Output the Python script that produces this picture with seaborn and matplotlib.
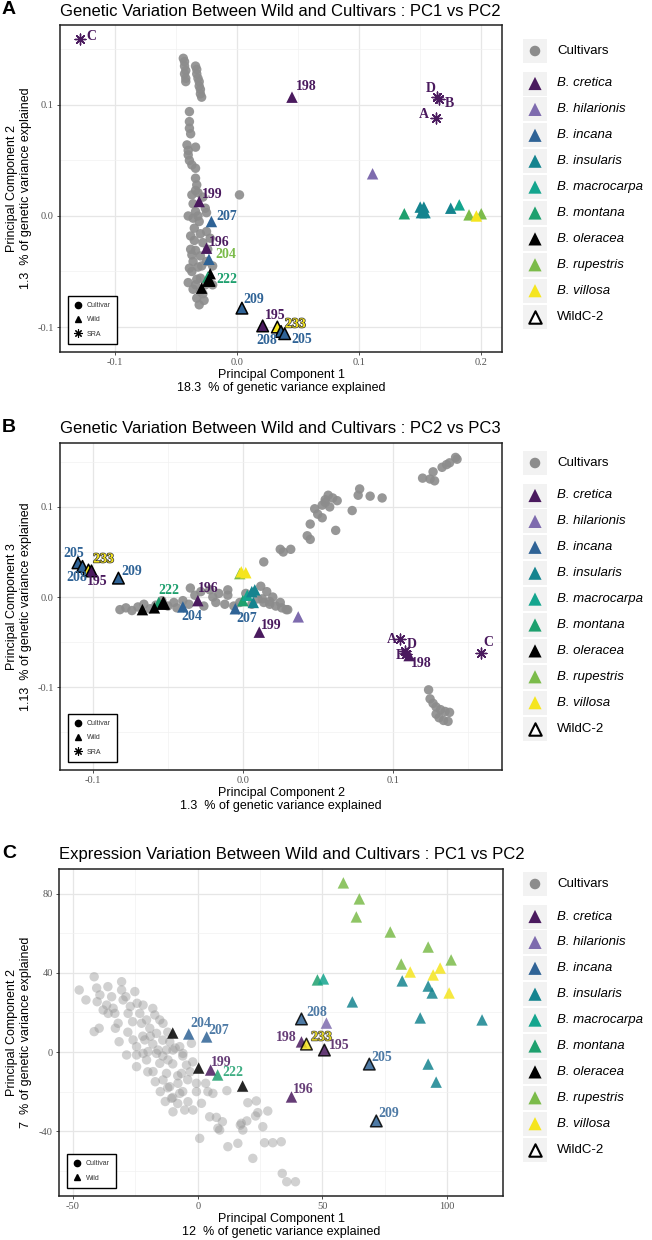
import numpy as np
import pandas as pd
import matplotlib
matplotlib.use("Agg")
import matplotlib.pyplot as plt
import matplotlib.patheffects as pe
from matplotlib.lines import Line2D
from matplotlib.patches import Rectangle
from matplotlib.ticker import FixedLocator, FormatStrFormatter
import seaborn as sns

# ─────────────────────────────────────────────
# DATA
# ─────────────────────────────────────────────
SPECIES = ["B. cretica", "B. hilarionis", "B. incana", "B. insularis", "B. macrocarpa",
           "B. montana", "B. oleracea", "B. rupestris", "B. villosa"]
SPECIES_COLORS = ["#4a1a5e", "#7e6bae", "#2f6396", "#15848f", "#14a58e",
                  "#1ea06e", "#000000", "#7bbb4a", "#f5e51e"]
PALETTE = dict(zip(SPECIES, SPECIES_COLORS))
GREY = "#8c8c8c"

TITLES = ["Genetic Variation Between Wild and Cultivars : PC1 vs PC2",
          "Genetic Variation Between Wild and Cultivars : PC2 vs PC3",
          "Expression Variation Between Wild and Cultivars : PC1 vs PC2"]
X_TITLES = [("Principal Component 1", "18.3  % of genetic variance explained"),
            ("Principal Component 2", "1.3  % of genetic variance explained"),
            ("Principal Component 1", "12  % of genetic variance explained")]
Y_TITLES = [("Principal Component 2", "1.3  % of genetic variance explained"),
            ("Principal Component 3", "1.13  % of genetic variance explained"),
            ("Principal Component 2", "7  % of genetic variance explained")]

# panel A : PC1 vs PC2 (genetic)
A_CULT = [(-0.044, 0.142), (-0.043, 0.139), (-0.043, 0.135), (-0.042, 0.131), (-0.043, 0.128),
          (-0.042, 0.124), (-0.042, 0.121), (-0.034, 0.135), (-0.033, 0.132), (-0.033, 0.128),
          (-0.032, 0.124), (-0.031, 0.121), (-0.031, 0.117), (-0.030, 0.114), (-0.030, 0.110),
          (-0.029, 0.107), (-0.039, 0.094), (-0.039, 0.085), (-0.039, 0.079), (-0.038, 0.074),
          (-0.041, 0.064), (-0.040, 0.059), (-0.034, 0.062), (-0.040, 0.055), (-0.039, 0.050),
          (-0.037, 0.046), (-0.034, 0.043), (-0.034, 0.034), (-0.033, 0.028), (-0.034, 0.023),
          (-0.037, 0.019), (-0.032, 0.021), (-0.028, 0.017), (-0.036, 0.011), (-0.034, 0.004),
          (-0.026, 0.007), (-0.036, -0.002), (-0.031, -0.005), (-0.025, 0.003), (-0.035, -0.011),
          (-0.030, -0.016), (-0.035, -0.022), (-0.028, -0.024), (-0.034, -0.031), (-0.030, -0.036),
          (-0.036, -0.041), (-0.032, -0.046), (-0.037, -0.050), (-0.030, -0.056), (-0.034, -0.062),
          (-0.030, -0.068), (-0.033, -0.074), (-0.031, -0.080), (-0.027, -0.076), (-0.039, -0.047),
          (-0.025, -0.041), (-0.020, -0.045), (-0.025, -0.014), (-0.022, -0.020), (-0.026, -0.062),
          (-0.020, -0.062), (-0.040, 0.000), (-0.038, -0.030), (-0.040, -0.060), (-0.028, -0.070),
          (-0.024, -0.030), (-0.038, -0.018), (-0.037, -0.035), (-0.033, -0.057), (-0.036, -0.066),
          (-0.029, -0.045), (-0.032, 0.000), (0.002, 0.019)]
A_WILD = [("B. cretica", 0.045, 0.107, False, "198"),
          ("B. hilarionis", 0.111, 0.038, False, ""),
          ("B. montana", 0.137, 0.002, False, ""),
          ("B. insularis", 0.150, 0.008, False, ""),
          ("B. insularis", 0.153, 0.008, False, ""),
          ("B. insularis", 0.151, 0.003, False, ""),
          ("B. insularis", 0.154, 0.003, False, ""),
          ("B. insularis", 0.175, 0.007, False, ""),
          ("B. macrocarpa", 0.182, 0.010, False, ""),
          ("B. rupestris", 0.190, 0.001, False, ""),
          ("B. rupestris", 0.200, 0.002, False, ""),
          ("B. villosa", 0.196, 0.000, False, ""),
          ("B. cretica", -0.031, 0.013, False, "199"),
          ("B. incana", -0.021, -0.005, False, "207"),
          ("B. cretica", -0.025, -0.029, False, "196"),
          ("B. incana", -0.023, -0.039, False, "204"),
          ("B. oleracea", -0.022, -0.052, False, ""),
          ("B. oleracea", -0.023, -0.058, True, ""),
          ("B. montana", -0.024, -0.055, False, "222"),
          ("B. oleracea", -0.029, -0.065, False, ""),
          ("B. incana", 0.004, -0.083, True, "209"),
          ("B. cretica", 0.021, -0.099, True, "195"),
          ("B. villosa", 0.033, -0.100, True, "233"),
          ("B. incana", 0.036, -0.104, True, "208"),
          ("B. incana", 0.039, -0.106, True, "205")]
A_SRA = [("C", -0.129, 0.159), ("D", 0.164, 0.107), ("B", 0.165, 0.105), ("A", 0.163, 0.088)]

# panel B : PC2 vs PC3 (genetic)
B_CULT = [(0.120, 0.132), (0.125, 0.131), (0.128, 0.129), (0.127, 0.139), (0.133, 0.144),
          (0.136, 0.147), (0.138, 0.149), (0.143, 0.153), (0.142, 0.155),
          (0.057, 0.113), (0.055, 0.108), (0.053, 0.102), (0.058, 0.100), (0.063, 0.107),
          (0.078, 0.120), (0.077, 0.113), (0.085, 0.112), (0.093, 0.110), (0.073, 0.096),
          (0.048, 0.098), (0.050, 0.092), (0.053, 0.088), (0.045, 0.081), (0.062, 0.074),
          (0.043, 0.068), (0.045, 0.064), (0.025, 0.053), (0.027, 0.050), (0.032, 0.053),
          (0.014, 0.039), (0.055, 0.105), (0.060, 0.110),
          (-0.082, -0.014), (-0.078, -0.012), (-0.074, -0.015), (-0.070, -0.011), (-0.066, -0.008),
          (-0.062, -0.013), (-0.058, -0.009), (-0.054, -0.004), (-0.050, -0.010), (-0.046, -0.006),
          (-0.044, -0.012), (-0.040, -0.004), (-0.036, -0.008), (-0.032, 0.002), (-0.028, 0.006),
          (-0.026, -0.010), (-0.022, 0.008), (-0.020, 0.000), (-0.018, -0.006), (-0.016, 0.004),
          (-0.012, -0.008), (-0.010, 0.002), (-0.006, -0.010), (-0.002, -0.006), (0.002, 0.004),
          (0.006, -0.008), (0.010, -0.002), (0.014, -0.006), (0.018, -0.008), (0.022, -0.010),
          (0.026, -0.012), (0.030, -0.014), (0.020, 0.000), (0.012, 0.012), (0.016, 0.006),
          (0.013, -0.002), (0.018, -0.005), (0.025, -0.006), (0.029, -0.014), (-0.010, 0.008),
          (-0.035, 0.010),
          (0.124, -0.103), (0.125, -0.113), (0.127, -0.118), (0.129, -0.122), (0.132, -0.125),
          (0.135, -0.127), (0.138, -0.128), (0.129, -0.130), (0.131, -0.134), (0.134, -0.137),
          (0.137, -0.138)]
B_WILD = [("B. incana", -0.110, 0.038, True, "205"),
          ("B. incana", -0.107, 0.034, True, "208"),
          ("B. villosa", -0.103, 0.030, True, "233"),
          ("B. cretica", -0.101, 0.029, True, "195"),
          ("B. incana", -0.083, 0.021, True, "209"),
          ("B. montana", -0.056, -0.006, False, "222"),
          ("B. oleracea", -0.067, -0.014, False, ""),
          ("B. oleracea", -0.059, -0.012, False, ""),
          ("B. oleracea", -0.053, -0.007, True, ""),
          ("B. incana", -0.040, -0.011, False, "204"),
          ("B. cretica", -0.030, -0.004, False, "196"),
          ("B. rupestris", -0.002, 0.026, False, ""),
          ("B. villosa", -0.001, 0.028, False, ""),
          ("B. villosa", 0.002, 0.027, False, ""),
          ("B. incana", -0.005, -0.013, False, "207"),
          ("B. montana", 0.000, -0.004, False, ""),
          ("B. macrocarpa", 0.003, 0.002, False, ""),
          ("B. insularis", 0.008, 0.008, False, ""),
          ("B. insularis", 0.006, 0.006, False, ""),
          ("B. insularis", 0.007, -0.006, False, ""),
          ("B. cretica", 0.011, -0.039, False, "199"),
          ("B. hilarionis", 0.037, -0.022, False, ""),
          ("B. cretica", 0.111, -0.065, False, "198")]
B_SRA = [("A", 0.105, -0.047), ("D", 0.108, -0.060), ("B", 0.109, -0.063), ("C", 0.159, -0.062)]

# panel C : PC1 vs PC2 (expression)
C_CULT = [(-47.5, 31.3), (-44.8, 26.3), (-41.5, 38.0), (-40.5, 32.3), (-40.3, 25.4), (-39.2, 28.8),
          (-41.5, 10.3), (-39.5, 12.0), (-37.9, 21.2), (-36.5, 23.7), (-35.9, 19.5), (-34.5, 27.9),
          (-33.9, 22.1), (-33.2, 19.5), (-31.9, 14.5), (-31.5, 5.2), (-30.5, 35.5), (-30.5, 31.3),
          (-29.9, 26.3), (-28.8, 27.9), (-27.9, 19.5), (-26.1, 15.3), (-25.2, 30.5), (-24.3, 24.6),
          (-23.2, 19.5), (-22.5, 14.5), (-21.9, 23.7), (-25.9, 6.1), (-24.5, 2.7), (-21.2, 6.1),
          (-20.5, 16.2), (-19.2, 12.0), (-17.2, 18.7), (-16.5, 9.4), (-15.2, 16.2), (-13.9, 14.5),
          (-15.9, 1.0), (-12.5, 1.0), (-11.2, 5.2), (-9.9, 1.0), (-7.2, 2.7), (-5.9, -0.7),
          (-2.5, 4.4), (-19.9, 0.2), (-21.9, -0.7), (-28.5, -1.5), (-24.5, -1.5), (-24.5, -7.4),
          (-20.5, -4.0), (-17.9, -9.9), (-16.5, -0.7), (-15.2, -5.7), (-13.9, -14.1), (-12.5, -10.8),
          (-11.9, -4.0), (-11.2, -17.5), (-10.5, -23.4), (-9.9, -30.2), (-7.9, -15.8), (-7.2, -20.9),
          (-6.5, -10.8), (-5.2, -29.3), (-4.5, -6.6), (-3.9, -25.1), (-1.9, -29.3), (-0.5, -20.0),
          (-0.5, -15.8), (0.8, -43.6), (1.5, -25.9), (3.2, -15.8), (4.1, -20.0), (4.8, -32.7),
          (6.1, -20.9), (7.5, -33.0), (8.1, -38.5), (8.8, -39.4), (9.9, -35.2), (11.7, -19.5),
          (12.1, -47.8), (16.1, -46.1), (17.1, -36.9), (17.5, -36.0), (18.1, -39.4), (19.7, -34.8),
          (20.1, -25.6), (22.1, -53.7), (23.2, -32.3), (23.5, -24.7), (24.1, -30.6), (26.1, -37.7),
          (26.8, -45.8), (28.1, -29.8), (30.1, -45.8), (33.5, -45.3), (33.9, -61.3), (35.7, -65.5),
          (39.2, -65.5), (-14.0, -2.0), (-10.0, -6.0), (-8.0, -12.0), (-12.0, -18.0), (-6.0, -2.0),
          (-3.0, -10.0), (-9.0, 2.0), (-18.0, 4.0), (-22.0, 8.0), (-28.0, 10.0), (-14.0, 6.0),
          (-6.0, -20.0), (-10.0, -23.0), (-17.0, -15.0), (-20.0, -10.0), (-13.0, -25.0),
          (-8.0, -26.0), (-2.0, -5.0), (-36.0, 33.0), (-27.0, 23.0), (-18.0, 22.0), (-33.0, 12.0),
          (-19.0, 8.0), (-12.0, 10.0), (-4.0, -14.0), (-15.0, -20.0)]
C_WILD = [("B. rupestris", 58.4, 85.4, False, ""),
          ("B. rupestris", 64.8, 77.3, False, ""),
          ("B. rupestris", 63.6, 68.2, False, ""),
          ("B. rupestris", 77.2, 60.6, False, ""),
          ("B. rupestris", 92.4, 53.0, False, ""),
          ("B. rupestris", 101.6, 46.5, False, ""),
          ("B. rupestris", 81.6, 44.4, False, ""),
          ("B. villosa", 85.2, 40.4, False, ""),
          ("B. villosa", 97.2, 42.4, False, ""),
          ("B. villosa", 94.4, 38.9, False, ""),
          ("B. villosa", 100.8, 29.8, False, ""),
          ("B. montana", 48.0, 36.4, False, ""),
          ("B. macrocarpa", 50.4, 36.9, False, ""),
          ("B. insularis", 82.0, 35.9, False, ""),
          ("B. insularis", 92.4, 33.3, False, ""),
          ("B. insularis", 94.0, 29.8, False, ""),
          ("B. insularis", 62.0, 25.3, False, ""),
          ("B. insularis", 89.2, 17.2, False, ""),
          ("B. insularis", 114.0, 16.2, False, ""),
          ("B. insularis", 92.4, -6.1, False, ""),
          ("B. insularis", 95.6, -15.2, False, ""),
          ("B. incana", 41.6, 16.7, True, "208"),
          ("B. hilarionis", 51.6, 14.6, False, ""),
          ("B. cretica", 41.6, 5.1, False, "198"),
          ("B. villosa", 43.6, 4.0, True, "233"),
          ("B. cretica", 50.8, 1.0, True, "195"),
          ("B. incana", 68.8, -6.1, True, "205"),
          ("B. incana", 71.6, -34.8, True, "209"),
          ("B. cretica", 37.6, -22.7, False, "196"),
          ("B. oleracea", -10.0, 9.6, False, ""),
          ("B. incana", -3.6, 9.1, False, "204"),
          ("B. incana", 3.6, 7.6, False, "207"),
          ("B. oleracea", 0.4, -8.1, False, ""),
          ("B. cretica", 5.2, -9.1, False, "199"),
          ("B. montana", 8.0, -11.6, False, "222"),
          ("B. oleracea", 18.0, -17.2, False, "")]

# ─────────────────────────────────────────────
# LAYOUT (pixels in a 652 x 1240 canvas)
# ─────────────────────────────────────────────
W, H = 652, 1240
PANELS = [
    dict(letter="A", box=(60, 25, 502, 352), title_y=11, legend_top=51,
         xlim=(-0.145, 0.217), ylim=(-0.1225, 0.172),
         xticks=[-0.1, 0.0, 0.1, 0.2], yticks=[-0.1, 0.0, 0.1], fmt="%.1f",
         cult=A_CULT, wild=A_WILD, sra=A_SRA, cult_alpha=0.9, cult_color=GREY, wild_alpha=1.0,
         offsets={"198": (14, 11), "199": (13, 7), "207": (15, 5), "196": (13, 6), "204": (17, 5),
                  "222": (19, -2), "209": (12, 9), "195": (13, 10), "233": (18, 3), "208": (-14, -9),
                  "205": (17, -6), "C": (12, 3), "D": (-7, 9), "B": (11, -4), "A": (-12, 4)},
         label_colors={"204": "#7bbb4a"}),
    dict(letter="B", box=(60, 443, 502, 770), title_y=428, legend_top=463,
         xlim=(-0.122, 0.173), ylim=(-0.192, 0.171),
         xticks=[-0.1, 0.0, 0.1], yticks=[-0.1, 0.0, 0.1], fmt="%.1f",
         cult=B_CULT, wild=B_WILD, sra=B_SRA, cult_alpha=0.9, cult_color=GREY, wild_alpha=1.0,
         offsets={"205": (-4, 9), "208": (-6, -11), "233": (15, 11), "195": (6, -11), "209": (13, 7),
                  "222": (10, 12), "196": (10, 12), "204": (9, -10), "207": (11, -10), "199": (12, 7),
                  "198": (12, -8), "A": (-8, 0), "D": (7, 7), "B": (-6, -2), "C": (7, 10)},
         label_colors={}),
    dict(letter="C", box=(59, 869, 503, 1196), title_y=855, legend_top=884,
         xlim=(-55.6, 122.4), ylim=(-72.7, 92.4),
         xticks=[-50, 0, 50, 100], yticks=[-40, 0, 40, 80], fmt="%d",
         cult=C_CULT, wild=C_WILD, sra=None, cult_alpha=0.45, cult_color="#999999", wild_alpha=0.85,
         offsets={"204": (12, 10), "207": (12, 6), "199": (11, 8), "222": (15, 2), "196": (12, 7),
                  "209": (12, 7), "205": (12, 7), "195": (15, 5), "233": (15, 7), "198": (-15, 4),
                  "208": (15, 6)},
         label_colors={}),
]

plt.rcParams["font.family"] = ["Liberation Sans", "DejaVu Sans"]
SERIF = "Liberation Serif"
SRA_MARKER = (8, 2, 0)

fig = plt.figure(figsize=(W / 100, H / 100), dpi=100)
fig.patch.set_facecolor("white")


def px_axes(l, t, r, b):
    return fig.add_axes([l / W, 1 - b / H, (r - l) / W, (b - t) / H])


def fig_xy(x, y):
    return x / W, 1 - y / H


def draw_panel(p):
    l, t, r, b = p["box"]
    ax = px_axes(l, t, r, b)
    ax.set_facecolor("white")

    cult = pd.DataFrame(p["cult"], columns=["pc_x", "pc_y"])
    sns.scatterplot(data=cult, x="pc_x", y="pc_y", color=p["cult_color"], s=46,
                    alpha=p["cult_alpha"], edgecolor="none", legend=False, ax=ax, zorder=2)

    wild = pd.DataFrame(p["wild"], columns=["species", "pc_x", "pc_y", "wildc2", "label"])
    plain = wild[~wild["wildc2"]]
    edged = wild[wild["wildc2"]]
    sns.scatterplot(data=plain, x="pc_x", y="pc_y", hue="species", palette=PALETTE,
                    hue_order=SPECIES, marker="^", s=68, edgecolor="none",
                    alpha=p["wild_alpha"], legend=False, ax=ax, zorder=3)
    sns.scatterplot(data=edged, x="pc_x", y="pc_y", hue="species", palette=PALETTE,
                    hue_order=SPECIES, marker="^", s=70, edgecolor="black", linewidth=1.1,
                    alpha=p["wild_alpha"], legend=False, ax=ax, zorder=4)

    for _, row in wild[wild["label"] != ""].iterrows():
        col = p["label_colors"].get(row["label"], PALETTE[row["species"]])
        txt = ax.annotate(row["label"], (row["pc_x"], row["pc_y"]),
                          xytext=p["offsets"][row["label"]], textcoords="offset pixels",
                          ha="center", va="center", fontsize=10, fontfamily=SERIF,
                          fontweight="bold", color=col, alpha=p["wild_alpha"], zorder=6)
        if row["species"] == "B. villosa":
            txt.set_path_effects([pe.withStroke(linewidth=1.0, foreground="#333333")])

    if p["sra"] is not None:
        sra = pd.DataFrame(p["sra"], columns=["label", "pc_x", "pc_y"])
        sns.scatterplot(data=sra, x="pc_x", y="pc_y", marker=SRA_MARKER, color=PALETTE["B. cretica"],
                        s=60, linewidth=1.0, legend=False, ax=ax, zorder=5)
        for _, row in sra.iterrows():
            ax.annotate(row["label"], (row["pc_x"], row["pc_y"]),
                        xytext=p["offsets"][row["label"]], textcoords="offset pixels",
                        ha="center", va="center", fontsize=10, fontfamily=SERIF,
                        fontweight="bold", color=PALETTE["B. cretica"], zorder=6)

    ax.set_xlim(*p["xlim"])
    ax.set_ylim(*p["ylim"])
    xt, yt = p["xticks"], p["yticks"]
    ax.xaxis.set_major_locator(FixedLocator(xt))
    ax.yaxis.set_major_locator(FixedLocator(yt))
    dx, dy = xt[1] - xt[0], yt[1] - yt[0]
    ax.xaxis.set_minor_locator(FixedLocator([xt[0] - dx / 2] + [v + dx / 2 for v in xt]))
    ax.yaxis.set_minor_locator(FixedLocator([yt[0] - dy / 2] + [v + dy / 2 for v in yt]))
    ax.xaxis.set_major_formatter(FormatStrFormatter(p["fmt"]))
    ax.yaxis.set_major_formatter(FormatStrFormatter(p["fmt"]))
    ax.grid(which="major", color="#e6e6e6", linewidth=0.9)
    ax.grid(which="minor", color="#f1f1f1", linewidth=0.5)
    ax.set_axisbelow(True)
    ax.tick_params(which="minor", length=0)
    ax.tick_params(which="major", length=2.5, width=0.6, color="#333333", labelsize=7.5,
                   labelcolor="#555555", pad=2, labelfontfamily=SERIF)
    for s in ax.spines.values():
        s.set_color("#222222")
        s.set_linewidth(1.1)
    ax.set_xlabel("")
    ax.set_ylabel("")

    # shape inset legend
    handles = [Line2D([], [], ls="", marker="o", color="black", ms=4.5),
               Line2D([], [], ls="", marker="^", color="black", ms=5)]
    names = ["Cultivar", "Wild"]
    if p["sra"] is not None:
        handles.append(Line2D([], [], ls="", marker=SRA_MARKER, color="black", ms=6, mew=0.8))
        names.append("SRA")
    leg = ax.legend(handles, names, loc="lower left",
                    bbox_to_anchor=(8 / (r - l), 8 / (b - t)), fontsize=5, frameon=True,
                    fancybox=False, edgecolor="black", handlelength=1.2, handletextpad=0.6,
                    labelspacing=1.05, borderpad=0.9, borderaxespad=0)
    leg.get_frame().set_linewidth(1.0)
    leg.get_frame().set_facecolor("white")
    leg.get_frame().set_alpha(1.0)
    for tx in leg.get_texts():
        tx.set_color("#333333")
    return ax


for i, p in enumerate(PANELS):
    ax = draw_panel(p)
    l, t, r, b = p["box"]
    fig.text(*fig_xy(2, p["title_y"] - 1), p["letter"], fontsize=14, fontweight="bold",
             ha="left", va="center")
    fig.text(*fig_xy(l, p["title_y"]), TITLES[i], fontsize=12, ha="left", va="center")
    cx, cy = (l + r) / 2, (t + b) / 2
    fig.text(*fig_xy(cx, b + 23), X_TITLES[i][0], fontsize=9, ha="center", va="center")
    fig.text(*fig_xy(cx, b + 36), X_TITLES[i][1], fontsize=9, ha="center", va="center")
    fig.text(*fig_xy(12, cy), Y_TITLES[i][0], fontsize=9, ha="center", va="center", rotation=90)
    fig.text(*fig_xy(26, cy), Y_TITLES[i][1], fontsize=9, ha="center", va="center", rotation=90)

# colour / fill legends drawn in an overlay
ov = fig.add_axes([0, 0, 1, 1])
ov.set_xlim(0, W)
ov.set_ylim(H, 0)
ov.axis("off")
ov.patch.set_alpha(0)

for p in PANELS:
    top = p["legend_top"]
    rows = [("Cultivars", "o", GREY, "none", "normal", top, 58)]
    yy = top + 32.5
    for sp in SPECIES:
        rows.append((sp, "^", PALETTE[sp], "none", "italic", yy, 90))
        yy += 25.9
    rows.append(("WildC-2", "^", "white", "black", "normal", yy, 80))
    for text, mk, fc, ec, style, y, size in rows:
        ov.add_patch(Rectangle((523, y - 12), 24, 24, facecolor="#f2f2f2", edgecolor="none"))
        ov.scatter([535], [y], marker=mk, s=size, c=fc, edgecolors=ec, linewidths=1.5, zorder=3)
        ov.text(557, y, text, fontsize=9.5, fontstyle=style, ha="left", va="center")

fig.savefig("out.png", dpi=100, facecolor="white")
